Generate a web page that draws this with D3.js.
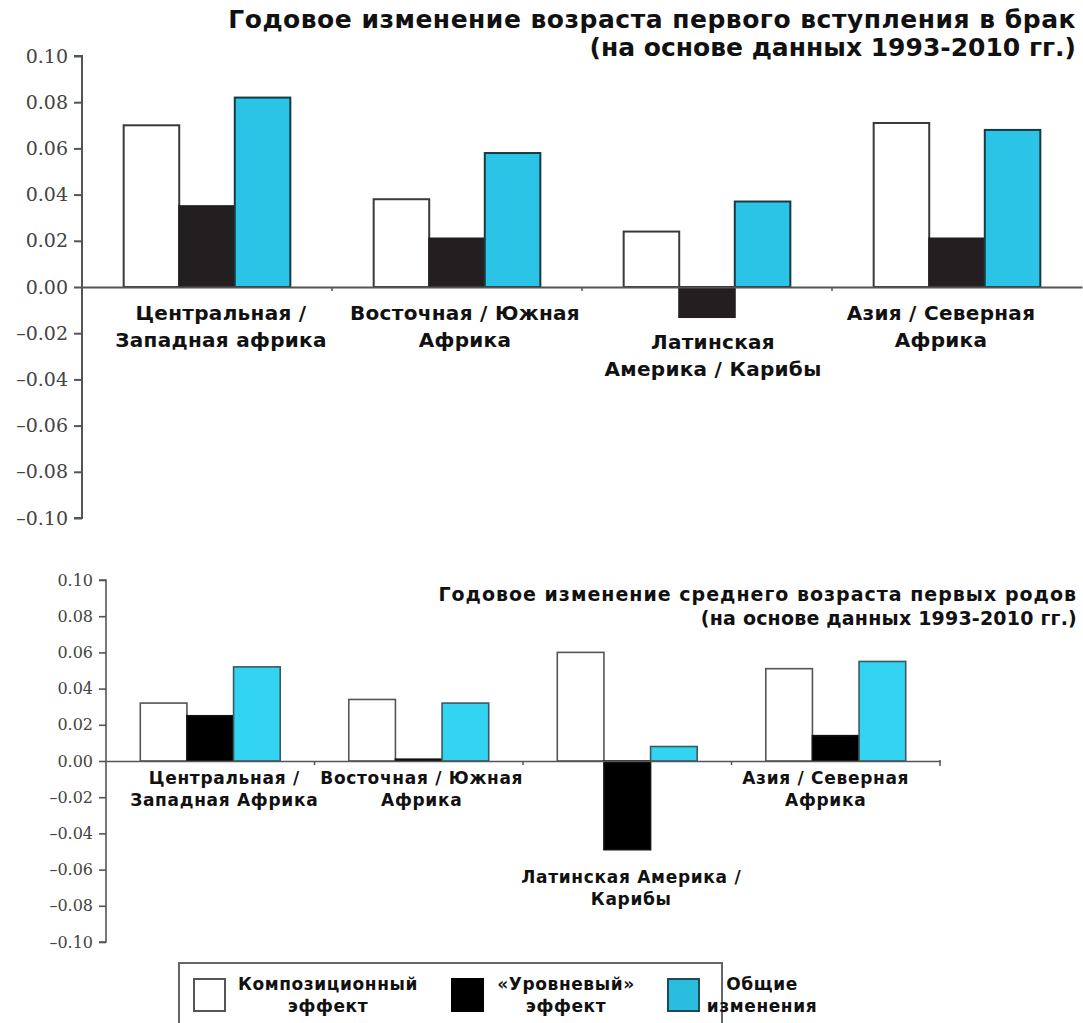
<!DOCTYPE html>
<html>
<head>
<meta charset="utf-8">
<script src="https://cdn.jsdelivr.net/npm/d3@7"></script>
<style>
  html, body { margin: 0; padding: 0; background: #fff; }
  svg { display: block; }
  .cat { font-family: "DejaVu Sans", Verdana, sans-serif; font-weight: bold; fill: #111; }
  .ttl { font-family: "DejaVu Sans", Verdana, sans-serif; font-weight: bold; fill: #111; }
  .ytick { font-family: "DejaVu Serif", "Liberation Serif", serif; fill: #444; }
</style>
</head>
<body>
<script>
// Region groups (label lines for each category)
const categoriesTop = [
  ["Центральная /", "Западная африка"],
  ["Восточная / Южная", "Африка"],
  ["Латинская", "Америка / Карибы"],
  ["Азия / Северная", "Африка"]
];
const categoriesBottom = [
  ["Центральная /", "Западная Африка"],
  ["Восточная / Южная", "Африка"],
  ["Латинская Америка /", "Карибы"],
  ["Азия / Северная", "Африка"]
];

// Series
const seriesKeys = ["composition", "level", "total"];
const seriesLabels = [["Композиционный", "эффект"], ["«Уровневый»", "эффект"], ["Общие", "изменения"]];

// Annual change in age at first marriage
const compositionTop = [0.070, 0.038, 0.024, 0.071];
const levelTop       = [0.035, 0.021, -0.013, 0.021];
const totalTop       = [0.082, 0.058, 0.037, 0.068];

// Annual change in mean age at first birth
const compositionBottom = [0.032, 0.034, 0.060, 0.051];
const levelBottom       = [0.025, 0.001, -0.049, 0.014];
const totalBottom       = [0.052, 0.032, 0.008, 0.055];

// Shared y-axis ticks
const yTicks = [0.10, 0.08, 0.06, 0.04, 0.02, 0.00, -0.02, -0.04, -0.06, -0.08, -0.10];

const titleTop = ["Годовое изменение возраста первого вступления в брак", "(на основе данных 1993-2010 гг.)"];
const titleBottom = ["Годовое изменение среднего возраста первых родов", "(на основе данных 1993-2010 гг.)"];

const W = 1083, H = 1023;
const svg = d3.select("body").append("svg").attr("width", W).attr("height", H);

const fmt = v => (v < 0 ? "\u2013" : "") + d3.format(".2f")(Math.abs(v));

function drawPanel(opt) {
  const g = svg.append("g");
  const y = d3.scaleLinear().domain([-0.1, 0.1]).range([opt.yBottom, opt.yTop]);
  const x = d3.scaleBand().domain(d3.range(opt.cats.length)).range([opt.x0, opt.x1]);
  const xs = d3.scaleBand().domain(seriesKeys).range([0, x.bandwidth()]).paddingInner(0).paddingOuter(opt.outerPad);

  const rows = opt.cats.map((c, i) => ({
    i, lines: c,
    values: { composition: opt.data.composition[i], level: opt.data.level[i], total: opt.data.total[i] }
  }));

  // bars
  rows.forEach(r => {
    seriesKeys.forEach(k => {
      const v = r.values[k];
      g.append("rect")
        .attr("x", x(r.i) + xs(k))
        .attr("width", xs.bandwidth())
        .attr("y", y(Math.max(0, v)))
        .attr("height", Math.abs(y(v) - y(0)))
        .attr("fill", opt.fills[k])
        .attr("stroke", opt.strokes[k])
        .attr("stroke-width", opt.barStroke);
    });
  });

  // y axis
  const yAxis = d3.axisLeft(y).tickValues(yTicks).tickFormat(fmt).tickSize(opt.tickLen).tickPadding(opt.tickPad);
  const ya = g.append("g").attr("transform", `translate(${opt.x0},0)`).call(yAxis);
  ya.select(".domain").attr("stroke", "#555").attr("stroke-width", opt.axisW)
    .attr("d", `M${-opt.tickLen},${opt.yTop}H0V${opt.yBottom}H${-opt.tickLen}`);
  ya.selectAll(".tick line").attr("stroke", "#555").attr("stroke-width", opt.axisW);
  ya.selectAll(".tick text").attr("class", "ytick").style("font-size", opt.yFont + "px");

  // x axis at zero with group separators
  const xa = d3.axisBottom(x).tickValues([]).tickSizeOuter(0);
  const xg = g.append("g").attr("transform", `translate(0,${y(0)})`).call(xa);
  xg.select(".domain").attr("stroke", "#555").attr("stroke-width", opt.axisW);
  const seps = d3.range(1, opt.cats.length).map(i => opt.x0 + i * x.step());
  xg.selectAll("line.sep").data(seps).enter().append("line")
    .attr("class", "sep")
    .attr("x1", d => d).attr("x2", d => d)
    .attr("y1", 0).attr("y2", 4)
    .attr("stroke", "#555").attr("stroke-width", 1.5);
  if (opt.endTick) {
    xg.append("line").attr("x1", opt.x1).attr("x2", opt.x1).attr("y1", -1).attr("y2", 5)
      .attr("stroke", "#555").attr("stroke-width", 1.5);
  }

  // category labels
  rows.forEach(r => {
    const minV = Math.min(0, d3.min(seriesKeys, k => r.values[k]));
    const top = y(minV) + (minV < 0 ? opt.labelNeg : opt.labelPos);
    const t = g.append("text").attr("class", "cat")
      .attr("text-anchor", "middle")
      .style("font-size", opt.catFont + "px")
      .style("letter-spacing", opt.catSpacing + "px");
    r.lines.forEach((ln, j) => {
      t.append("tspan")
        .attr("x", x(r.i) + x.bandwidth() / 2 + opt.labelDx[r.i])
        .attr("y", top + j * opt.catLine)
        .attr("dominant-baseline", "central")
        .text(ln);
    });
  });

  // title
  const tt = g.append("text").attr("class", "ttl").attr("text-anchor", "end")
    .style("font-size", opt.titleFont + "px");
  opt.title.forEach((ln, j) => {
    tt.append("tspan").attr("x", opt.titleX).attr("y", opt.titleY + j * opt.titleLine)
      .style("letter-spacing", opt.titleSpacing[j] + "px")
      .attr("dominant-baseline", "central").text(ln);
  });
}

drawPanel({
  cats: categoriesTop,
  data: { composition: compositionTop, level: levelTop, total: totalTop },
  x0: 82, x1: 1082, yTop: 56, yBottom: 518,
  outerPad: 0.75,
  fills: { composition: "#ffffff", level: "#231f20", total: "#2bc3e6" },
  strokes: { composition: "#3a3a3a", level: "#231f20", total: "#183a44" },
  barStroke: 2, axisW: 2, tickLen: 8, tickPad: 6, yFont: 19,
  labelPos: 26, labelNeg: 25, catLine: 27, catFont: 20, catSpacing: 0.3,
  labelDx: [14, 8, 6, -16],
  endTick: false,
  title: titleTop, titleX: 1076, titleY: 19, titleLine: 28, titleFont: 25, titleSpacing: [0.5, 0]
});

drawPanel({
  cats: categoriesBottom,
  data: { composition: compositionBottom, level: levelBottom, total: totalBottom },
  x0: 106, x1: 940, yTop: 580, yBottom: 942,
  outerPad: 0.735,
  fills: { composition: "#ffffff", level: "#000000", total: "#33d3f2" },
  strokes: { composition: "#555555", level: "#111111", total: "#3a5a60" },
  barStroke: 1.6, axisW: 1.6, tickLen: 7, tickPad: 6, yFont: 16,
  labelPos: 17, labelNeg: 27, catLine: 22, catFont: 17, catSpacing: 0.7,
  labelDx: [14, 3, 4, -10],
  endTick: true,
  title: titleBottom, titleX: 1077, titleY: 594, titleLine: 24, titleFont: 19, titleSpacing: [1.0, 0.2]
});

// Legend
const legendFills = ["#ffffff", "#000000", "#2bbde0"];
const legendStrokes = ["#555555", "#000000", "#1e4a55"];
const lg = svg.append("g");
lg.append("rect").attr("x", 179).attr("y", 963).attr("width", 543).attr("height", 70)
  .attr("fill", "none").attr("stroke", "#666").attr("stroke-width", 2);
const legendX = d3.scaleOrdinal().domain(seriesKeys).range([194, 452, 668]);
const legendTextX = d3.scaleOrdinal().domain(seriesKeys).range([328, 566, 762]);
seriesKeys.forEach((k, i) => {
  lg.append("rect").attr("x", legendX(k)).attr("y", 979).attr("width", 31).attr("height", 32)
    .attr("fill", legendFills[i]).attr("stroke", legendStrokes[i]).attr("stroke-width", 2);
  const t = lg.append("text").attr("class", "cat").attr("text-anchor", "middle")
    .style("font-size", "17px").style("letter-spacing", "0.6px");
  seriesLabels[i].forEach((ln, j) => {
    t.append("tspan").attr("x", legendTextX(k)).attr("y", 984 + j * 22)
      .attr("dominant-baseline", "central").text(ln);
  });
});
</script>
</body>
</html>
